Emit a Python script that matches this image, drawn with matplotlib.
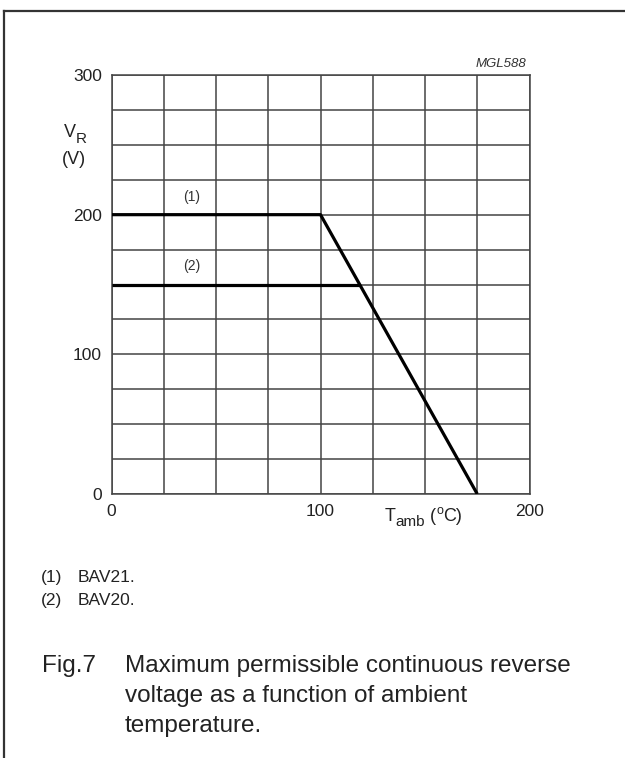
import matplotlib
matplotlib.use("Agg")
import matplotlib.pyplot as plt
from matplotlib.lines import Line2D
import numpy as np

plt.rcParams['font.family'] = ['Liberation Sans', 'DejaVu Sans']

# Data
bav21_t = [0, 100, 175]
bav21_v = [200, 200, 0]
bav20_t = [0, 118.75]
bav20_v = [150, 150]
xticks = [0, 100, 200]
yticks = [0, 100, 200, 300]
notes = [('(1)', 'BAV21.'), ('(2)', 'BAV20.')]
caption_lines = ['Maximum permissible continuous reverse',
                 'voltage as a function of ambient',
                 'temperature.']

W, H = 625, 758
fig = plt.figure(figsize=(W/100, H/100), dpi=100)
TXT = '#222222'


def fx(px):
    return px / W


def fy(py):
    return 1 - py / H


ax = fig.add_axes([fx(111.5), fy(494), fx(529.5) - fx(111.5), fy(75) - fy(494)])
ax.set_xlim(0, 200)
ax.set_ylim(0, 300)
ax.set_xticks(np.arange(0, 201, 25), minor=True)
ax.set_yticks(np.arange(0, 301, 25), minor=True)
ax.set_xticks(xticks)
ax.set_yticks(yticks)
ax.grid(True, which='both', color='#444444', linewidth=1.1)
ax.tick_params(which='both', length=0, labelsize=12.5, colors=TXT)
ax.tick_params(axis='y', pad=7)
ax.tick_params(axis='x', pad=7)
for s in ax.spines.values():
    s.set_color('#444444')
    s.set_linewidth(1.1)
ax.set_axisbelow(True)

ax.plot(bav21_t, bav21_v, color='black', linewidth=2.3, solid_capstyle='butt', zorder=3)
ax.plot(bav20_t, bav20_v, color='black', linewidth=2.3, solid_capstyle='butt', zorder=3)

ax.text(38.3, 213, '(1)', fontsize=10, color='#333333', ha='center', va='center')
ax.text(38.3, 163, '(2)', fontsize=10, color='#333333', ha='center', va='center')

renderer = fig.canvas.get_renderer()


def runs(x_px, base_px, parts):
    """parts: list of (text, fontsize, baseline offset in px (down positive))"""
    x = x_px
    for txt, size, dy in parts:
        t = fig.text(fx(x), fy(base_px + dy), txt, fontsize=size, color=TXT,
                     ha='left', va='baseline')
        bb = t.get_window_extent(renderer=renderer)
        x += bb.width


# axis labels
runs(64, 137, [('V', 13, 0), ('R', 11, 6)])
fig.text(fx(62), fy(164), '(V)', fontsize=13, color=TXT, ha='left', va='baseline')
runs(385, 521, [('T', 13, 0), ('amb', 11, 5), (' (', 13, 0), ('o', 9, -7), ('C)', 13, 0)])

fig.text(fx(526), fy(67), 'MGL588', fontsize=9.5, style='italic', color='#333333',
         ha='right', va='baseline')

# frame
fig.add_artist(Line2D([fx(4), fx(4)], [fy(11), 0], color='#333333', linewidth=1.6,
                      transform=fig.transFigure))
fig.add_artist(Line2D([fx(4), 1], [fy(11), fy(11)], color='#333333', linewidth=1.6,
                      transform=fig.transFigure))

# footnotes
for i, (num, name) in enumerate(notes):
    b = 582 + 23 * i
    fig.text(fx(40.5), fy(b), num, fontsize=12.5, color=TXT, ha='left', va='baseline')
    fig.text(fx(78), fy(b), name, fontsize=12.5, color=TXT, ha='left', va='baseline')

# caption
fig.text(fx(41.5), fy(672), 'Fig.7', fontsize=17.5, color=TXT, ha='left', va='baseline')
for i, line in enumerate(caption_lines):
    fig.text(fx(125), fy(672 + 30 * i), line, fontsize=17.5, color=TXT,
             ha='left', va='baseline')

fig.savefig('out.png', dpi=100)
